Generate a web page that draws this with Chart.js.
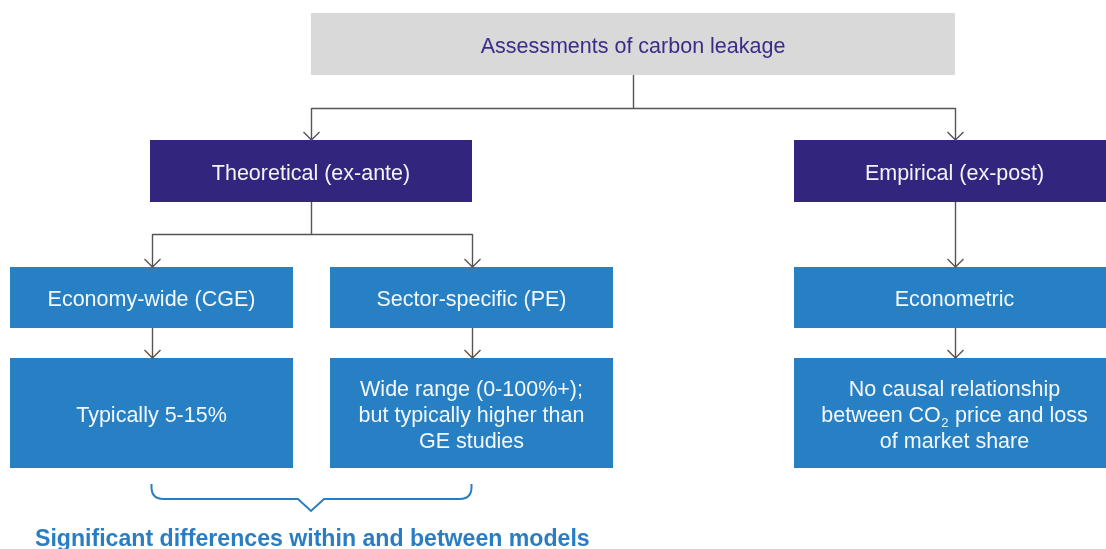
<!DOCTYPE html>
<html>
<head>
<meta charset="utf-8">
<title>Assessments of carbon leakage</title>
<script src="https://cdn.jsdelivr.net/npm/chart.js@4.4.0/dist/chart.umd.min.js"></script>
<style>
  body { margin: 0; background: #fff; }
  #wrap { width: 1106px; height: 549px; }
</style>
</head>
<body>
<div id="wrap"><canvas id="flow" width="1106" height="549"></canvas></div>
<script>
/*---------- Chart content ----------*/
const rootLabel = "Assessments of carbon leakage";
const approachLabels = ["Theoretical (ex-ante)", "Empirical (ex-post)"];
const methodLabels = ["Economy-wide (CGE)", "Sector-specific (PE)", "Econometric"];
const findingLabels = [
  ["Typically 5-15%"],
  ["Wide range (0-100%+);", "but typically higher than", "GE studies"],
  ["No causal relationship", "between CO\u2082 price and loss", "of market share"],
];
const methodParent = [0, 0, 1]; // which approach each method belongs to
const noteLabel = "Significant differences within and between models";

/*---------- Layout (axis units = pixels) ----------*/
const rootBox = { x0: 311, x1: 955, y0: 13, y1: 75 };
const approachCols = [{ x0: 150, x1: 472 }, { x0: 794, x1: 1115 }];
const approachRow = { y0: 140, y1: 202 };
const methodCols = [{ x0: 10, x1: 293 }, { x0: 330, x1: 613 }, { x0: 794, x1: 1115 }];
const methodRow = { y0: 267, y1: 328 };
const findingRow = { y0: 358, y1: 468 };
const rootElbowY = 108;
const approachElbowY = 234;

// colours
const grey = "#d9d9d9";
const purple = "#31257e";
const blue = "#2680c3";
const titleColor = "#3b2c88";
const lineColor = "#555555";
const noteColor = "#2a7dc2";
const boxFont = '21.5px "Liberation Sans", Arial, sans-serif';
const subFont = '13px "Liberation Sans", Arial, sans-serif';

const mid = (c) => (c.x0 + c.x1) / 2;

/*---------- Drawing helpers ----------*/
function lineWidthOf(ctx, text) {
  const parts = text.split("\u2082");
  let w = 0;
  parts.forEach((p, i) => {
    ctx.font = boxFont;
    w += ctx.measureText(p).width;
    if (i < parts.length - 1) {
      ctx.font = subFont;
      w += ctx.measureText("2").width + 1;
    }
  });
  return w;
}

function drawText(ctx, lines, cx, cy, color) {
  const lh = 26;
  ctx.fillStyle = color;
  ctx.textBaseline = "middle";
  ctx.textAlign = "left";
  lines.forEach((text, i) => {
    const y = cy + (i - (lines.length - 1) / 2) * lh + 3;
    let x = cx - lineWidthOf(ctx, text) / 2;
    const parts = text.split("\u2082");
    parts.forEach((p, j) => {
      ctx.font = boxFont;
      ctx.fillText(p, x, y);
      x += ctx.measureText(p).width;
      if (j < parts.length - 1) {
        ctx.font = subFont;
        ctx.fillText("2", x + 0.5, y + 7);
        x += ctx.measureText("2").width + 1;
      }
    });
  });
}

function drawArrow(ctx, x, y0, y1) {
  ctx.beginPath();
  ctx.moveTo(x, y0);
  ctx.lineTo(x, y1);
  ctx.moveTo(x - 8, y1 - 8);
  ctx.lineTo(x, y1);
  ctx.lineTo(x + 8, y1 - 8);
  ctx.stroke();
}

/*---------- Plugin that draws the flow diagram on the scales ----------*/
const flowPlugin = {
  id: "flow",
  afterDraw(chart) {
    const ctx = chart.ctx;
    const sx = chart.scales.x;
    const sy = chart.scales.y;
    const px = (v) => sx.getPixelForValue(v);
    const py = (v) => sy.getPixelForValue(v);

    function box(col, row, fill, lines, textColor) {
      const x0 = px(col.x0), x1 = px(col.x1);
      const y0 = py(row.y0), y1 = py(row.y1);
      ctx.fillStyle = fill;
      ctx.fillRect(x0, y0, x1 - x0, y1 - y0);
      drawText(ctx, lines, (x0 + x1) / 2, (y0 + y1) / 2, textColor);
    }

    ctx.save();

    // boxes
    box(rootBox, rootBox, grey, [rootLabel], titleColor);
    approachLabels.forEach((t, i) => box(approachCols[i], approachRow, purple, [t], "#f4f3fa"));
    methodLabels.forEach((t, i) => box(methodCols[i], methodRow, blue, [t], "#f4f7fb"));
    findingLabels.forEach((t, i) => box(methodCols[i], findingRow, blue, t, "#f4f7fb"));

    // connectors
    ctx.strokeStyle = lineColor;
    ctx.lineWidth = 1.4;
    const rx = Math.round(px(mid(rootBox))) + 0.5;
    ctx.beginPath();
    ctx.moveTo(rx, py(rootBox.y1));
    ctx.lineTo(rx, py(rootElbowY));
    ctx.moveTo(Math.round(px(mid(approachCols[0]))) + 0.5, py(rootElbowY) + 0.5);
    ctx.lineTo(Math.round(px(mid(approachCols[1]))) + 0.5, py(rootElbowY) + 0.5);
    ctx.stroke();
    approachCols.forEach((c) => {
      drawArrow(ctx, Math.round(px(mid(c))) + 0.5, py(rootElbowY), py(approachRow.y0));
    });

    approachCols.forEach((c, a) => {
      const kids = methodCols.filter((m, i) => methodParent[i] === a);
      const ax = Math.round(px(mid(c))) + 0.5;
      if (kids.length === 1) {
        drawArrow(ctx, Math.round(px(mid(kids[0]))) + 0.5, py(approachRow.y1), py(methodRow.y0));
        return;
      }
      ctx.beginPath();
      ctx.moveTo(ax, py(approachRow.y1));
      ctx.lineTo(ax, py(approachElbowY));
      ctx.moveTo(Math.round(px(mid(kids[0]))) + 0.5, py(approachElbowY) + 0.5);
      ctx.lineTo(Math.round(px(mid(kids[kids.length - 1]))) + 0.5, py(approachElbowY) + 0.5);
      ctx.stroke();
      kids.forEach((k) => {
        drawArrow(ctx, Math.round(px(mid(k))) + 0.5, py(approachElbowY), py(methodRow.y0));
      });
    });

    methodCols.forEach((c) => {
      drawArrow(ctx, Math.round(px(mid(c))) + 0.5, py(methodRow.y1), py(findingRow.y0));
    });

    // brace under the two theoretical findings
    const bx0 = px(mid(methodCols[0]));
    const bx1 = px(mid(methodCols[1]));
    const bm = px(mid(approachCols[0]));
    const bTop = py(484), bLine = py(499), bTip = py(511);
    const r = 12;
    ctx.strokeStyle = noteColor;
    ctx.lineWidth = 2;
    ctx.beginPath();
    ctx.moveTo(bx0, bTop);
    ctx.lineTo(bx0, bLine - r);
    ctx.quadraticCurveTo(bx0, bLine, bx0 + r, bLine);
    ctx.lineTo(bm - 13, bLine);
    ctx.lineTo(bm, bTip);
    ctx.lineTo(bm + 13, bLine);
    ctx.lineTo(bx1 - r, bLine);
    ctx.quadraticCurveTo(bx1, bLine, bx1, bLine - r);
    ctx.lineTo(bx1, bTop);
    ctx.stroke();

    // note under the brace, fitted to its width in the reference
    ctx.font = 'bold 20px "Liberation Sans", Arial, sans-serif';
    const w = ctx.measureText(noteLabel).width;
    const size = 20 * 555 / w;
    ctx.font = 'bold ' + size.toFixed(2) + 'px "Liberation Sans", Arial, sans-serif';
    ctx.fillStyle = noteColor;
    ctx.textAlign = "left";
    ctx.textBaseline = "middle";
    ctx.fillText(noteLabel, px(35), py(540));

    ctx.restore();
  },
};

/*---------- Chart ----------*/
const flowChart = new Chart(document.getElementById("flow"), {
  type: "scatter",
  data: { datasets: [{ data: [], pointRadius: 0 }] },
  options: {
    responsive: false,
    animation: false,
    layout: { padding: 0 },
    scales: {
      x: { type: "linear", min: 0, max: 1106, display: false },
      y: { type: "linear", min: 0, max: 549, reverse: true, display: false },
    },
    plugins: {
      legend: { display: false },
      tooltip: { enabled: false },
    },
  },
  plugins: [flowPlugin],
});
</script>
</body>
</html>
